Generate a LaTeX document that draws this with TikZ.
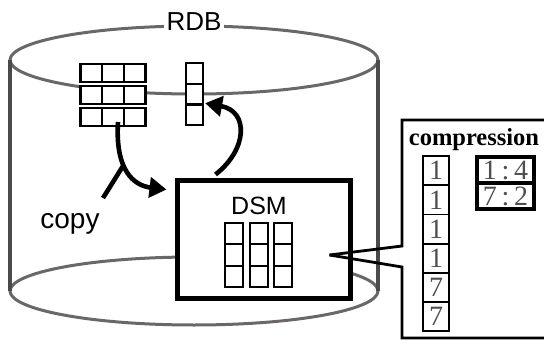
\documentclass[tikz,border=0pt]{standalone}
\usepackage{fontspec}
\setmainfont{Liberation Serif}
\setsansfont{Liberation Sans}
\usepackage{tikz}
\usetikzlibrary{arrows.meta}
\usetikzlibrary{calc}
\usepackage{xcolor}
\definecolor{cylgray}{HTML}{6B6767}
\definecolor{sidegray}{HTML}{4A4A4A}
\definecolor{numgray}{HTML}{4F4F4F}

\begin{document}
\begin{tikzpicture}[x=1pt,y=-1pt,
    cell/.style={draw,fill=white,line width=2.3pt,inner sep=0pt,minimum width=21.7pt,minimum height=18pt},
    colcell/.style={draw,fill=white,line width=2.3pt,inner sep=0pt,minimum width=17pt,minimum height=20.7pt},
    dsmcell/.style={draw,line width=2pt,inner sep=0pt,minimum width=18pt,minimum height=21.3pt},
    numcell/.style={draw,line width=1.8pt,inner sep=0pt,minimum width=26pt,minimum height=29.2pt,
      text=numgray,font=\fontsize{28}{28}\selectfont},
    paircell/.style={draw,line width=3.4pt,inner sep=0pt,minimum width=57pt,minimum height=26pt,
      text=numgray,font=\fontsize{28}{28}\selectfont},
    flow/.style={line width=4.6pt,-{Triangle[length=17pt,width=20pt]}}]
        \useasboundingbox (0,0) rectangle (544,340);
        % cylinder
        \draw[cylgray,line width=3pt] (194,60) ellipse [x radius=184,y radius=34];
        \draw[cylgray,line width=3pt] (194,291) ellipse [x radius=184,y radius=34];
        \draw[sidegray,line width=3.4pt] (10,60) -- (10,291);
        \draw[sidegray,line width=3.4pt] (378,60) -- (378,291);
        \node[fill=white,inner sep=3pt,font=\sffamily\fontsize{26}{26}\selectfont] (rdb) at (194,22) {RDB};
        % row table and column
        \foreach \r in {0,1,2}
          \foreach \c in {0,1,2}
            \node[cell] (t\r\c) at (91.3+21.7*\c,73+22*\r) {};
        \foreach \r in {0,1,2}
          \node[colcell] (col\r) at (194.5,73.3+20.7*\r) {};
        % DSM
        \node[draw,line width=5pt,fill=white,inner sep=0pt,minimum width=173pt,minimum height=118pt] (dsm) at (263.5,239) {};
        \node[anchor=base,inner sep=0pt,font=\sffamily\fontsize{25}{25}\selectfont] (dsmlabel) at (259,214) {DSM};
        \foreach \c in {0,1,2}
          \foreach \r in {0,1,2}
            \node[dsmcell] (d\c\r) at (234+24.5*\c,233.7+21.3*\r) {};
        % copy
        \node[anchor=base,inner sep=0pt,font=\sffamily\fontsize{28}{28}\selectfont] (copy) at (70,228) {copy};
        \coordinate (join) at (123,166);
        \coordinate (copytail) at (103,198);
        \draw[flow] ($(t21.center)+(5,5)$) .. controls +(-3,48) and +(-33,-4) .. ($(dsm.north west)+(-8,12)$);
        \draw[line width=4.6pt] (copytail) -- (join);
        \draw[flow] ($(dsm.north west)+(41,-3)$) .. controls +(32,-25) and +(44,8) .. ($(col2.north east)+(1,0)$);
        % compression
        \coordinate (tip) at ($(dsm.east)+(-23,16)$);
        \draw[line width=2.8pt] (tip) -- (402,246) -- (402,120) [rounded corners=6pt] -- (560,120);
        \draw[line width=2.8pt] (tip) -- (402,267) -- (402,338) [rounded corners=6pt] -- (560,338);
        \node[anchor=base,inner sep=0pt,font=\bfseries\fontsize{24.5}{24.5}\selectfont] (comp) at (474,145) {compression};
        \foreach \v [count=\i from 0] in {1,1,1,1,7,7}
          \node[numcell] (n\i) at (436,170.6+29.2*\i) {\v};
        \node[paircell] (p0) at (505.5,170) {1\,:\,4};
        \node[paircell] (p1) at (505.5,196) {7\,:\,2};
      \end{tikzpicture}
\end{document}
